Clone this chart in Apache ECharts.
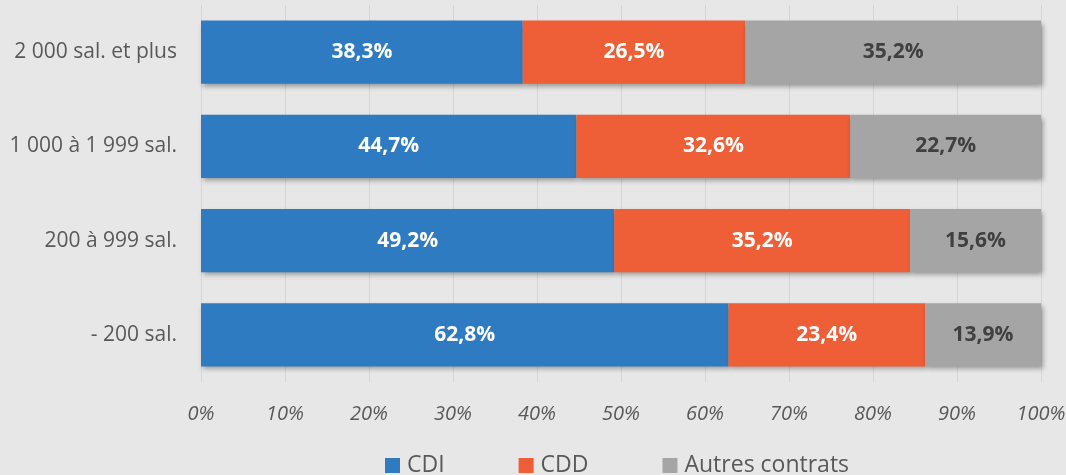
<!DOCTYPE html>
<html><head><meta charset="utf-8">
<script src="https://cdn.jsdelivr.net/npm/echarts@6/dist/echarts.min.js"></script>
<style>html,body{margin:0;padding:0;background:#e7e7e7;}#c{width:1066px;height:475px;}</style>
</head><body><div id="c"></div>
<script>
const categories = ['- 200 sal.', '200 à 999 sal.', '1 000 à 1 999 sal.', '2 000 sal. et plus'];
const cdi = [62.8, 49.2, 44.7, 38.3];
const cdd = [23.4, 35.2, 32.6, 26.5];
const autres = [13.9, 15.6, 22.7, 35.2];
const seriesNames = ['CDI', 'CDD', 'Autres contrats'];
const xTicks = [0, 10, 20, 30, 40, 50, 60, 70, 80, 90, 100];

const colors = ['#2F7BC2', '#EE5E37', '#A5A5A5'];
const labelColors = ['#ffffff', '#ffffff', '#404040'];
const fmt = v => v.toFixed(1).replace('.', ',') + '%';
const chart = echarts.init(document.getElementById('c'));
const datasets = [cdi, cdd, autres];
chart.setOption({
  backgroundColor: '#e7e7e7',
  textStyle: { fontFamily: 'Open Sans' },
  grid: { left: 201, right: 25, top: 5, bottom: 93, containLabel: false, outerBoundsMode: 'none' },
  legend: {
    top: 449, left: 380, itemWidth: 15, itemHeight: 15, itemGap: 74,
    icon: 'rect',
    textStyle: { fontSize: 23, color: '#595959', fontFamily: 'Open Sans', padding: [0,0,0,2] },
    data: seriesNames
  },
  xAxis: {
    type: 'value', min: 0, max: 100, interval: 10,
    axisLine: { show: false }, axisTick: { show: false },
    splitLine: { show: true, lineStyle: { color: '#d5d5d5', width: 1 } },
    axisLabel: { formatter: v => v + '%', fontStyle: 'italic', fontSize: 20, color: '#595959', margin: 22 }
  },
  yAxis: {
    type: 'category', data: categories,
    axisLine: { show: false }, axisTick: { show: false },
    axisLabel: { fontSize: 21, color: '#595959', margin: 24 }
  },
  series: datasets.map((d, i) => ({
    name: seriesNames[i], type: 'bar', stack: 'total', data: d,
    barCategoryGap: '33%',
    itemStyle: { color: colors[i], shadowBlur: 5, shadowOffsetX: 2, shadowOffsetY: 3, shadowColor: 'rgba(0,0,0,0.35)' },
    label: { show: true, position: 'inside', formatter: p => fmt(p.value), color: labelColors[i], fontWeight: 'bold', fontSize: 21, fontFamily: 'Open Sans' }
  }))
});
</script></body></html>
